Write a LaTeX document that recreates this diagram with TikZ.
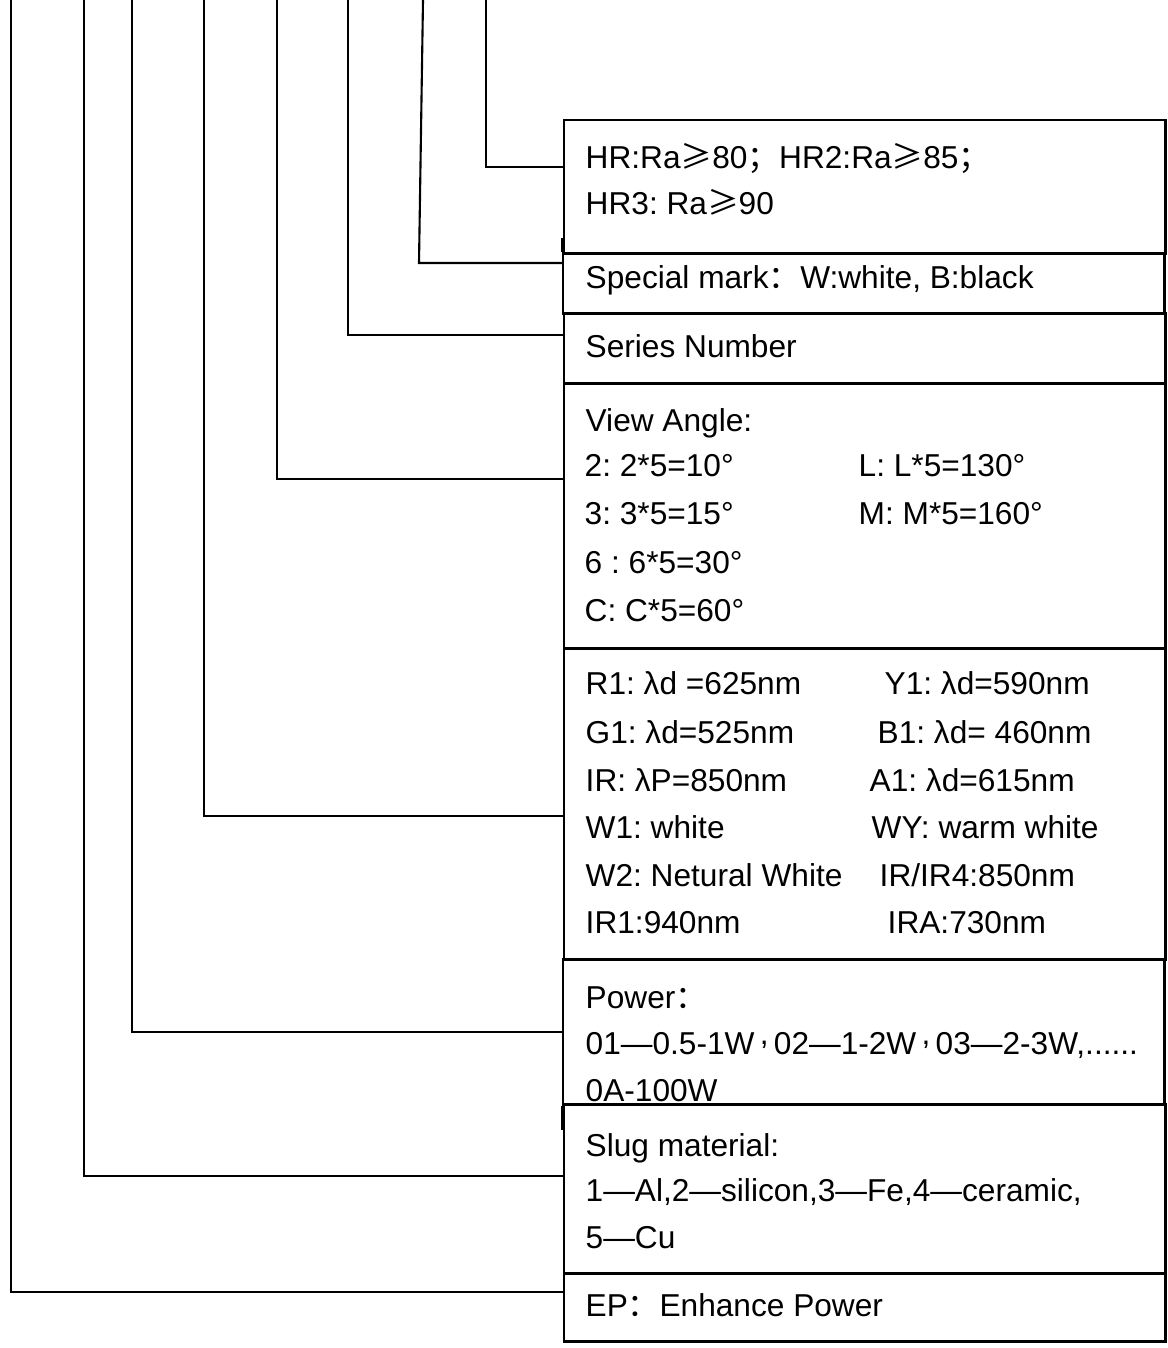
\documentclass[tikz,border=0pt]{standalone}
\usepackage{fontspec}
\setmainfont{Liberation Sans}
\newfontfamily\cjk{Noto Sans CJK SC}
\usepackage{tikz}
\newcommand{\fcolon}{{\cjk ：}}
\newcommand{\fsemi}{{\cjk ；}}
\newcommand{\rageq}{{\cjk ≥}}
\newcommand{\midcomma}{\,\raisebox{0.3em}{,}\,}
\frenchspacing

\begin{document}
\begin{tikzpicture}[x=0.01cm,y=-0.01cm,
  panel/.style={draw,line width=0.7pt,rectangle,inner sep=0pt,anchor=north west,minimum width=6.01cm},
  lead/.style={line width=0.6pt},
  lbl/.style={anchor=base west,inner sep=0pt,font=\fontsize{9pt}{11pt}\selectfont}]
\useasboundingbox (0,0) rectangle (1168,1348);
% boxes
\node[panel,minimum height=1.33cm] (hr) at (563,119) {};
\node[panel,minimum height=0.60cm] (sm) at (562,252) {};
\node[panel,minimum height=0.70cm] (sn) at (563,312) {};
\node[panel,minimum height=2.65cm] (va) at (563,382) {};
\node[panel,minimum height=3.11cm] (wl) at (563,647) {};
\node[panel,minimum height=1.45cm] (pw) at (562,958) {};
\node[panel,minimum height=1.69cm] (sl) at (563,1103) {};
\node[panel,minimum height=0.68cm] (ep) at (563,1272) {};
\draw[line width=0.7pt] (sm.north west) -- ++(0,-14);
\draw[line width=0.7pt] (pw.south west) -- ++(0,24);
% texts
\node[lbl] (hr1) at (585,168) {HR:Ra\rageq 80\fsemi HR2:Ra\rageq 85\fsemi};
\node[lbl] (hr2) at (585,214) {HR3: Ra\rageq 90};
\node[lbl] (sm1) at (585,288) {Special mark\fcolon W:white, B:black};
\node[lbl] (sn1) at (585,357) {Series Number};
\node[lbl] (va0) at (585,431) {View Angle:};
\node[lbl] (va1) at (584,476) {2: 2*5=10°};
\node[lbl] (va2) at (858,476) {L: L*5=130°};
\node[lbl] (va3) at (584,524) {3: 3*5=15°};
\node[lbl] (va4) at (858,524) {M: M*5=160°};
\node[lbl] (va5) at (584,573) {6 : 6*5=30°};
\node[lbl] (va6) at (584,621) {C: C*5=60°};
\node[lbl] (wl1) at (585,694) {R1: λd =625nm};
\node[lbl] (wl2) at (884,694) {Y1: λd=590nm};
\node[lbl] (wl3) at (585,743) {G1: λd=525nm};
\node[lbl] (wl4) at (877,743) {B1: λd= 460nm};
\node[lbl] (wl5) at (585,791) {IR: λP=850nm};
\node[lbl] (wl6) at (869,791) {A1: λd=615nm};
\node[lbl] (wl7) at (585,838) {W1: white};
\node[lbl] (wl8) at (871,838) {WY: warm white};
\node[lbl] (wl9) at (585,886) {W2: Netural White};
\node[lbl] (wl10) at (879,886) {IR/IR4:850nm};
\node[lbl] (wl11) at (585,933) {IR1:940nm};
\node[lbl] (wl12) at (887,933) {IRA:730nm};
\node[lbl] (pw1) at (585,1008) {Power\fcolon};
\node[lbl] (pw2) at (585,1054) {01—0.5-1W\midcomma 02—1-2W\midcomma 03—2-3W,......};
\node[lbl] (pw3) at (585,1101) {0A-100W};
\node[lbl] (sl1) at (585,1156) {Slug material:};
\node[lbl] (sl2) at (585,1201) {1—Al,2—silicon,3—Fe,4—ceramic,};
\node[lbl] (sl3) at (585,1248) {5—Cu};
\node[lbl] (ep1) at (585,1316) {EP\fcolon Enhance Power};
% leads from the top edge
\coordinate (t1) at (486,0);
\coordinate (t2) at (423,0);
\coordinate (t3) at (348,0);
\coordinate (t4) at (277,0);
\coordinate (t5) at (204,0);
\coordinate (t6) at (132,0);
\coordinate (t7) at (84,0);
\coordinate (t8) at (11,0);
\draw[lead] (t1) |- (hr.west |- 0,167);
\draw[lead] (t2) -- (419,263) -- (sm.west |- 0,263);
\draw[lead] (t3) |- (sn.west |- 0,335);
\draw[lead] (t4) |- (va.west |- 0,479);
\draw[lead] (t5) |- (wl.west |- 0,816);
\draw[lead] (t6) |- (pw.west |- 0,1032);
\draw[lead] (t7) |- (sl.west |- 0,1176);
\draw[lead] (t8) |- (ep.west |- 0,1292);
\end{tikzpicture}
\end{document}
